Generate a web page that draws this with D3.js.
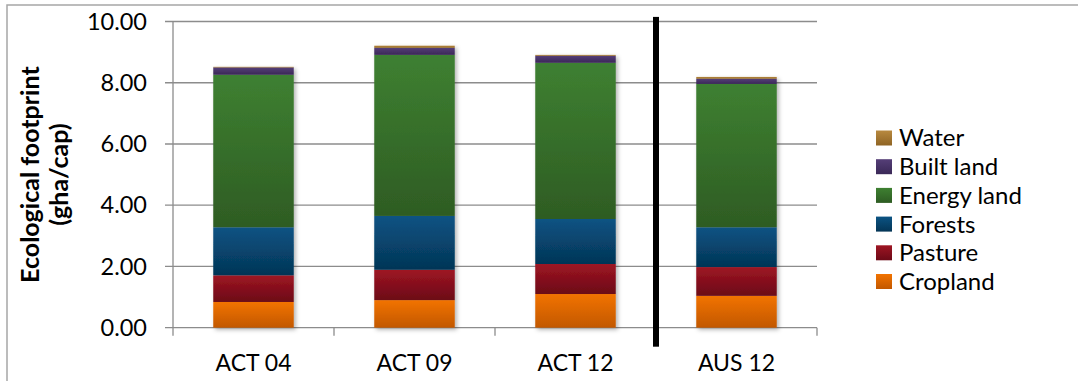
<!DOCTYPE html>
<html>
<head>
<meta charset="utf-8">
<script src="https://cdn.jsdelivr.net/npm/d3@7"></script>
<style>
  body { margin: 0; background: #fff; }
  svg text { font-family: Lato, "Open Sans", sans-serif; fill: #000; }
</style>
</head>
<body>
<div id="chart"></div>
<script>
// categories and stacked series (gha/cap)
const categories = ["ACT 04", "ACT 09", "ACT 12", "AUS 12"];
const cropland = [0.84, 0.90, 1.10, 1.04];
const pasture = [0.87, 0.99, 0.98, 0.94];
const forests = [1.57, 1.76, 1.47, 1.30];
const energyLand = [4.98, 5.26, 5.10, 4.68];
const builtLand = [0.24, 0.23, 0.23, 0.17];
const water = [0.02, 0.07, 0.03, 0.06];
const yTicks = [0, 2, 4, 6, 8, 10];

const seriesNames = ["Cropland", "Pasture", "Forests", "Energy land", "Built land", "Water"];
const seriesValues = [cropland, pasture, forests, energyLand, builtLand, water];
const gradColors = [
  ["#f27300", "#c25800"],
  ["#9e1523", "#6c0a17"],
  ["#0b5383", "#043556"],
  ["#3e8031", "#2e5c23"],
  ["#553e77", "#3a2857"],
  ["#b8893f", "#8f6424"]
];

const width = 1078, height = 381;
const margin = { left: 173, right: 261, top: 21.5, bottom: 53.3 };

const svg = d3.select("#chart").append("svg").attr("width", width).attr("height", height);
const defs = svg.append("defs");

gradColors.forEach((c, i) => {
  const g = defs.append("linearGradient").attr("id", "grad" + i)
    .attr("x1", 0).attr("y1", 0).attr("x2", 0).attr("y2", 1);
  g.append("stop").attr("offset", "0%").attr("stop-color", c[0]);
  g.append("stop").attr("offset", "100%").attr("stop-color", c[1]);
});

const shadow = defs.append("filter").attr("id", "shadow")
  .attr("x", "-10%").attr("y", "-10%").attr("width", "130%").attr("height", "130%");
shadow.append("feDropShadow").attr("dx", 2).attr("dy", 2).attr("stdDeviation", 2)
  .attr("flood-color", "#000").attr("flood-opacity", 0.3);

// outer chart border
svg.append("rect").attr("x", 7).attr("y", 5).attr("width", 1100).attr("height", 420)
  .attr("fill", "none").attr("stroke", "#a6a6a6").attr("stroke-width", 1.5);

const x = d3.scaleBand().domain(categories)
  .range([margin.left, width - margin.right]).paddingInner(0.5).paddingOuter(0.25);
const y = d3.scaleLinear().domain([0, 10]).range([height - margin.bottom, margin.top]);

// gridlines + y ticks
svg.append("g").selectAll("line").data(yTicks).enter().append("line")
  .attr("x1", margin.left - 8).attr("x2", width - margin.right)
  .attr("y1", d => y(d)).attr("y2", d => y(d))
  .attr("stroke", "#8c8c8c").attr("stroke-width", 1.3);

svg.append("g").selectAll("text").data(yTicks).enter().append("text")
  .attr("x", 147).attr("y", d => y(d)).attr("dy", "0.35em")
  .attr("text-anchor", "end").attr("font-size", "23.5px")
  .text(d => d3.format(".2f")(d));

// y axis line
svg.append("line").attr("x1", margin.left).attr("x2", margin.left)
  .attr("y1", y(10)).attr("y2", y(0))
  .attr("stroke", "#8c8c8c").attr("stroke-width", 1.3);

// x tick marks at category boundaries
const step = x.step();
const boundaries = d3.range(categories.length + 1).map(i => margin.left + i * step);
svg.append("g").selectAll("line").data(boundaries).enter().append("line")
  .attr("x1", d => d).attr("x2", d => d)
  .attr("y1", y(0)).attr("y2", y(0) + 8)
  .attr("stroke", "#8c8c8c").attr("stroke-width", 1.3);

// stacked bars
const stackData = categories.map((c, i) => {
  const row = { category: c };
  seriesNames.forEach((s, j) => row[s] = seriesValues[j][i]);
  return row;
});
const stacked = d3.stack().keys(seriesNames)(stackData);

const bars = svg.append("g");
categories.forEach((c, ci) => {
  const bg = bars.append("g").attr("filter", "url(#shadow)");
  stacked.forEach((layer, li) => {
    const d = layer[ci];
    bg.append("rect")
      .attr("x", x(c)).attr("width", x.bandwidth())
      .attr("y", y(d[1])).attr("height", y(d[0]) - y(d[1]))
      .attr("fill", `url(#grad${li})`);
  });
});

// x labels
svg.append("g").selectAll("text").data(categories).enter().append("text")
  .attr("x", d => x(d) + x.bandwidth() / 2).attr("y", 371)
  .attr("text-anchor", "middle").attr("font-size", "23px")
  .text(d => d);

// separator line between ACT and AUS
svg.append("rect")
  .attr("x", boundaries[3] - 3).attr("width", 6)
  .attr("y", y(10.15)).attr("height", y(-0.62) - y(10.15))
  .attr("fill", "#000");

// y axis title
const yt = svg.append("text").attr("text-anchor", "middle")
  .attr("font-weight", "bold").attr("font-size", "25px")
  .attr("transform", `translate(39,${(y(0) + y(10)) / 2}) rotate(-90)`);
yt.append("tspan").attr("x", 0).attr("y", 0).text("Ecological footprint");
yt.append("tspan").attr("x", 0).attr("y", 29).text("(gha/cap)");

// legend, top entry is Water
const legendItems = seriesNames.map((s, i) => ({ name: s, idx: i })).reverse();
const legend = svg.append("g").selectAll("g").data(legendItems).enter().append("g")
  .attr("transform", (d, i) => `translate(876,${138 + i * 28.7})`);
legend.append("rect").attr("x", 0).attr("y", -7.5).attr("width", 16).attr("height", 15)
  .attr("fill", d => `url(#grad${d.idx})`);
legend.append("text").attr("x", 23).attr("y", 0).attr("dy", "0.35em")
  .attr("font-size", "24px").text(d => d.name);
</script>
</body>
</html>
